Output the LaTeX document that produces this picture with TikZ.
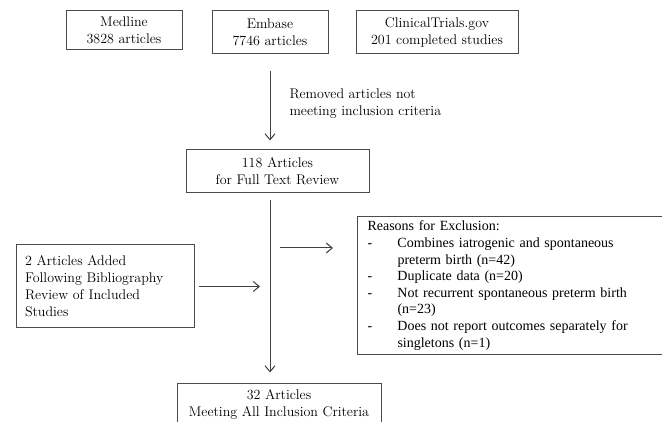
\documentclass[tikz,border=0pt]{standalone}
\usepackage{fontspec}
\newfontfamily\timesfont{Liberation Serif}
\usetikzlibrary{arrows.meta}

\begin{document}
\begin{tikzpicture}[x=1pt,y=-1pt,>={Straight Barb[length=6pt,width=10pt]},
    line width=1pt,
    box/.style={rectangle,draw=black!70,align=center,inner sep=0pt,
      font=\fontsize{14}{17}\selectfont},
    note/.style={align=left,inner sep=0pt,font=\fontsize{14}{17}\selectfont},
    arrow/.style={->,draw=black!75}]

  \clip (0,0) rectangle (662,422);

  \node[box,minimum width=116pt,minimum height=39pt] (medline) at (124,30.5) {Medline\\3828 articles};
  \node[box,minimum width=116pt,minimum height=43pt] (embase) at (270,32.5) {Embase\\7746 articles};
  \node[box,minimum width=162pt,minimum height=43pt] (trials) at (437,32.5) {ClinicalTrials.gov\\201 completed studies};

  \node[note,anchor=west] (removed) at (289,104) {Removed articles not\\meeting inclusion criteria};

  \node[box,minimum width=183pt,minimum height=43pt] (review) at (277.5,171.5) {118 Articles\\for Full Text Review};

  \node[box,minimum width=178pt,minimum height=83pt,align=left,text width=160pt] (added) at (105,286.5)
    {2 Articles Added\\Following Bibliography\\Review of Included\\Studies};

  % wrapped lines are set full width, as in a justified list
  \node[box,anchor=north west,align=left,text width=320pt,inner xsep=10pt,inner ysep=4.5pt,
    font=\timesfont\fontsize{14}{16.6}\selectfont] (reasons) at (357,216)
    {Reasons for Exclusion:\\
     \makebox[30pt][l]{-}\makebox[226pt][s]{Combines iatrogenic and spontaneous}\\
     \hspace*{30pt}preterm birth (n=42)\\
     \makebox[30pt][l]{-}Duplicate data (n=20)\\
     \makebox[30pt][l]{-}\makebox[226pt][s]{Not recurrent spontaneous preterm birth}\\
     \hspace*{30pt}(n=23)\\
     \makebox[30pt][l]{-}\makebox[226pt][s]{Does not report outcomes separately for}\\
     \hspace*{30pt}singletons (n=1)};

  \node[box,minimum width=204pt,minimum height=43pt] (final) at (279,404.5) {32 Articles\\Meeting All Inclusion Criteria};

  \coordinate (fork) at (270,248);

  \draw[arrow,shorten <=17pt,shorten >=9pt] (embase.south) -- (embase.south |- review.north);
  \draw[arrow,shorten <=7pt,shorten >=10pt] (embase.south |- review.south) -- (embase.south |- final.north);
  \draw[arrow,shorten <=10pt,shorten >=24pt] (fork) -- (fork -| reasons.west);
  \draw[arrow,shorten <=4pt,shorten >=10pt] (added.east) -- (added.east -| fork);

\end{tikzpicture}
\end{document}
